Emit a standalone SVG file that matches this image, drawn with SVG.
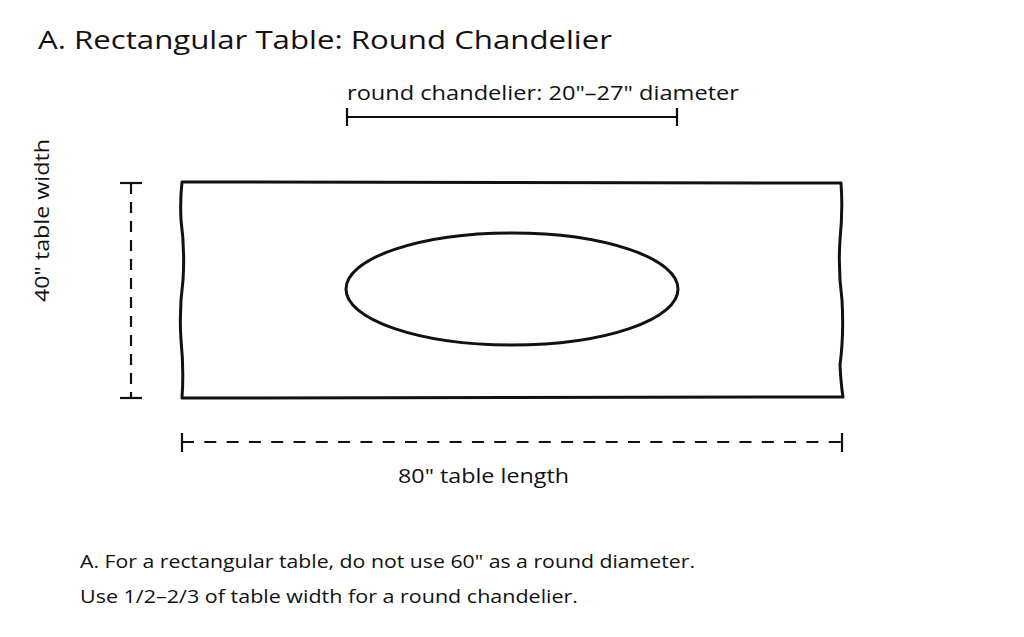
<svg xmlns="http://www.w3.org/2000/svg" width="1024" height="637" viewBox="0 0 1024 637">
<style>
.t{font-family:"Open Sans","Liberation Sans",sans-serif;fill:#111}
.ln{stroke:#111;stroke-width:2.2;fill:none;stroke-linecap:butt}
.sh{stroke:#111;stroke-width:3;fill:none;stroke-linejoin:round}
</style>
<rect width="1024" height="637" fill="#fff"/>
<text class="t" x="38" y="49" font-size="25" textLength="574" lengthAdjust="spacingAndGlyphs">A. Rectangular Table: Round Chandelier</text>
<g id="table">
<path class="sh" d="M182,182 L841,183 Q843,210 840,240 Q838,270 842,300 Q844,335 840,365 Q841,385 843,397 L182,398 Q184,370 181,340 Q179,310 183,280 Q185,250 181,220 Q180,200 182,182 Z"/>
</g>
<g id="chandelier">
<ellipse class="sh" cx="512" cy="289" rx="166" ry="56"/>
</g>
<g id="connectors">
<line class="ln" x1="347" y1="117" x2="677" y2="117"/>
<line class="ln" x1="347" y1="108" x2="347" y2="126"/>
<line class="ln" x1="677" y1="108" x2="677" y2="126"/>
<line class="ln" x1="131" y1="183" x2="131" y2="398" stroke-dasharray="11,8"/>
<line class="ln" x1="120" y1="183" x2="142" y2="183"/>
<line class="ln" x1="120" y1="398" x2="142" y2="398"/>
<line class="ln" x1="182" y1="442" x2="842" y2="442" stroke-dasharray="12,10.3"/>
<line class="ln" x1="182" y1="433" x2="182" y2="452"/>
<line class="ln" x1="842" y1="433" x2="842" y2="452"/>
</g>
<text class="t" x="347" y="100" font-size="20" textLength="392" lengthAdjust="spacingAndGlyphs">round chandelier: 20"–27" diameter</text>
<text class="t" transform="translate(49,302) rotate(-90)" font-size="20" textLength="163" lengthAdjust="spacingAndGlyphs">40" table width</text>
<text class="t" x="398" y="483" font-size="20" textLength="171" lengthAdjust="spacingAndGlyphs">80" table length</text>
<text class="t" x="80" y="568" font-size="18" textLength="615" lengthAdjust="spacingAndGlyphs">A. For a rectangular table, do not use 60" as a round diameter.</text>
<text class="t" x="80" y="603" font-size="18" textLength="498" lengthAdjust="spacingAndGlyphs">Use 1/2–2/3 of table width for a round chandelier.</text>
</svg>
